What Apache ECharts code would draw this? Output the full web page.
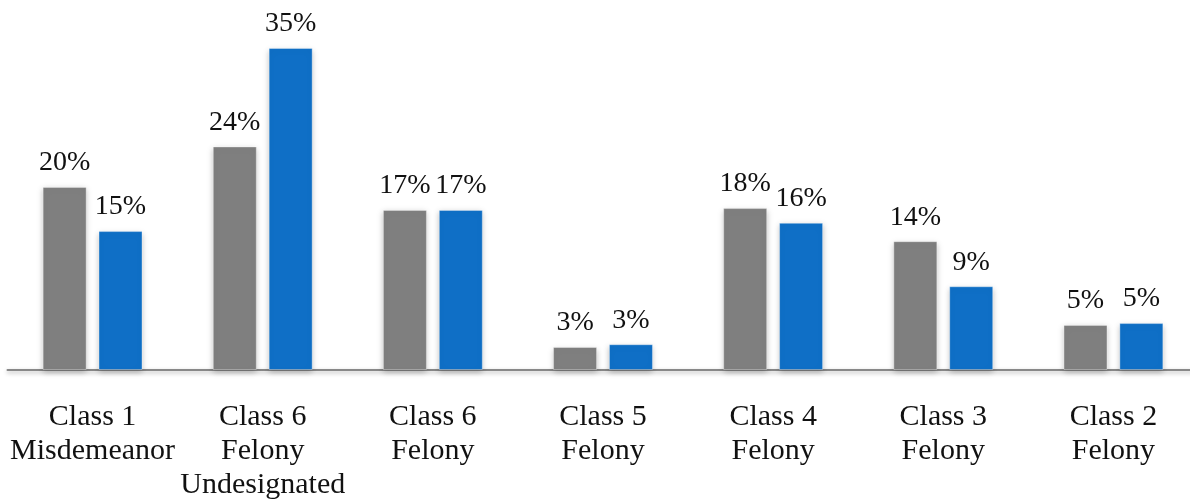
<!DOCTYPE html>
<html>
<head>
<meta charset="utf-8">
<script src="https://cdn.jsdelivr.net/npm/echarts@6/dist/echarts.min.js"></script>
<style>html,body{margin:0;padding:0;background:#fff;}#c{width:1190px;height:500px;}</style>
</head>
<body>
<div id="c"></div>
<script>
const categories = ["Class 1\nMisdemeanor", "Class 6\nFelony\nUndesignated", "Class 6\nFelony", "Class 5\nFelony", "Class 4\nFelony", "Class 3\nFelony", "Class 2\nFelony"];
const seriesGray = [19.9, 24.3, 17.4, 2.5, 17.6, 14.0, 4.9];
const seriesBlue = [15.1, 35.0, 17.4, 2.8, 16.0, 9.1, 5.1];

const fontFam = '"Liberation Serif", "Times New Roman", serif';
const labelCfg = {
  show: true, position: 'top', distance: 10,
  fontFamily: fontFam, fontSize: 28, color: '#111',
  formatter: p => Math.round(p.value) + '%'
};
const chart = echarts.init(document.getElementById('c'));
chart.setOption({
  animation: false,
  grid: { left: 7.5, width: 1191, top: 2, height: 368, outerBoundsMode: 'none', containLabel: false },
  xAxis: {
    type: 'category', data: categories,
    axisLine: { lineStyle: { color: '#888', width: 2, shadowBlur: 4, shadowColor: 'rgba(0,0,0,0.3)', shadowOffsetY: 2 } },
    axisTick: { show: false },
    axisLabel: { fontFamily: fontFam, fontSize: 30, color: '#111', lineHeight: 34, margin: 30, interval: 0 }
  },
  yAxis: { type: 'value', min: 0, max: 40, show: false, splitLine: { show: false } },
  series: [
    { type: 'bar', data: seriesGray, barWidth: 44, barGap: '27%',
      itemStyle: { color: '#7F7F7F', shadowBlur: 6, shadowColor: 'rgba(0,0,0,0.25)', shadowOffsetY: 2, borderColor: 'rgba(255,255,255,0.35)', borderWidth: 1 },
      label: labelCfg },
    { type: 'bar', data: seriesBlue, barWidth: 44,
      itemStyle: { color: '#0F6FC6', shadowBlur: 6, shadowColor: 'rgba(0,0,0,0.25)', shadowOffsetY: 2, borderColor: 'rgba(255,255,255,0.35)', borderWidth: 1 },
      label: labelCfg }
  ]
});
</script>
</body>
</html>
